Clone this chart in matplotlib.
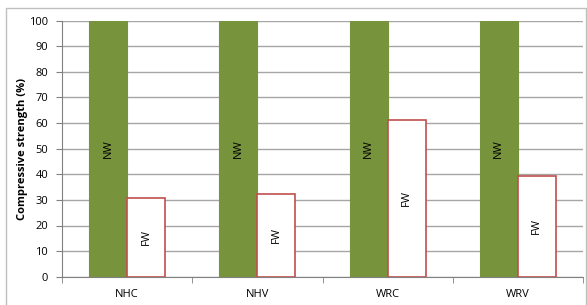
import matplotlib
matplotlib.use("Agg")
import matplotlib.pyplot as plt
import numpy as np
from matplotlib.patches import Rectangle

categories = ["NHC", "NHV", "WRC", "WRV"]
nw_values = [100, 100, 100, 100]
fw_values = [30.9, 32.3, 61.1, 39.3]
series_labels = ["NW", "FW"]
yticks = list(range(0, 101, 10))

plt.rcParams['font.family'] = ['Open Sans', 'DejaVu Sans']

W, H = 587, 305
fig = plt.figure(figsize=(W / 100, H / 100), dpi=100)
left, right, top, bottom = 62, 583, 20.7, 276.7
ax = fig.add_axes([left / W, 1 - bottom / H, (right - left) / W, (bottom - top) / H])

# outer frame
fig.patches.append(Rectangle((5.5 / W, -0.05), (586 - 5.5) / W, 1.05 - 8 / H,
                             transform=fig.transFigure, fill=False,
                             edgecolor="#bfbfbf", linewidth=1.0))

x = np.arange(len(categories))
bw = 38 / 130.25
nw_bars = ax.bar(x - bw / 2, nw_values, width=bw, color="#77933C", edgecolor="#77933C",
                 linewidth=0.8, zorder=3)
fw_bars = ax.bar(x + bw / 2, fw_values, width=bw, color="white", edgecolor="#C0504D",
                 linewidth=1.2, zorder=3)

for b in nw_bars:
    ax.text(b.get_x() + b.get_width() / 2, b.get_height() / 2, series_labels[0],
            rotation=90, ha="center", va="center", fontsize=8, color="black", zorder=4)
for b in fw_bars:
    ax.text(b.get_x() + b.get_width() / 2, b.get_height() / 2, series_labels[1],
            rotation=90, ha="center", va="center", fontsize=8, color="black", zorder=4)

ax.set_xlim(-0.5, len(categories) - 0.5)
ax.set_ylim(0, 100)
ax.set_yticks(yticks)
ax.set_xticks(x)
ax.set_xticklabels(categories, fontsize=8)
ax.set_xticks(np.arange(-0.5, len(categories) + 0.5, 1), minor=True)
ax.tick_params(axis="x", which="major", length=0, pad=9)
ax.tick_params(axis="x", which="minor", length=4, color="#808080", direction="out")
ax.tick_params(axis="y", length=4, color="#808080", direction="out", labelsize=8, pad=6)

ax.yaxis.grid(True, color="#a6a6a6", linewidth=1.0, zorder=0)
ax.set_axisbelow(True)
for s in ["top", "right"]:
    ax.spines[s].set_visible(False)
ax.spines["left"].set_color("#808080")
ax.spines["bottom"].set_color("#808080")

ax.set_ylabel("Compressive strength (%)", fontsize=8, fontweight="bold")
ax.yaxis.set_label_coords(-(62 - 28) / (right - left), 0.5)

fig.savefig("out.png", dpi=100)
